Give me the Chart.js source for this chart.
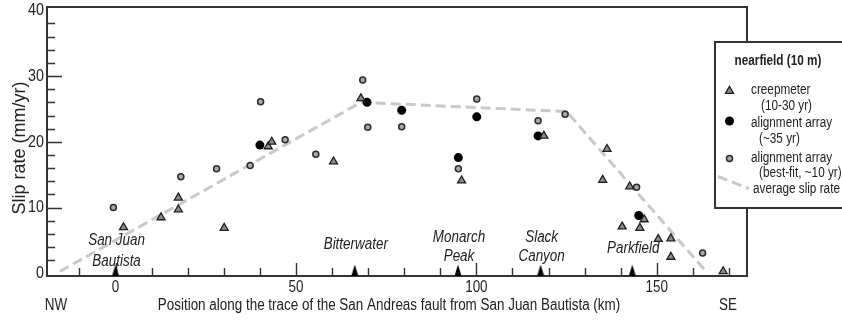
<!DOCTYPE html>
<html>
<head>
<meta charset="utf-8">
<title>Slip rate along the San Andreas fault</title>
<script src="https://cdn.jsdelivr.net/npm/chart.js@4.4.1/dist/chart.umd.min.js"></script>
<style>
  html, body { margin: 0; padding: 0; background: #fff; }
  #wrap { width: 842px; height: 323px; }
</style>
</head>
<body>
<div id="wrap"><canvas id="slipChart" width="842" height="323"></canvas></div>
<script>
'use strict';

// creepmeters (10-30 yr records)
const creepKm   = [2.2, 12.6, 17.4, 17.4, 30.1, 42.3, 43.3, 60.4, 68.0, 95.9, 118.7,
                   135.0, 136.2, 140.4, 142.5, 145.3, 146.5, 150.4, 153.9, 153.9, 168.4];
const creepRate = [7.0, 8.5, 11.5, 9.7, 6.9, 19.3, 20.0, 17.0, 26.6, 14.1, 20.9,
                   14.2, 18.9, 7.1, 13.2, 6.9, 8.2, 5.2, 5.3, 2.5, 0.3];

// alignment arrays (~35 yr)
const alignKm   = [40.0, 69.7, 79.3, 95.0, 100.1, 117.1, 145.0];
const alignRate = [19.5, 26.0, 24.8, 17.6, 23.8, 20.9, 8.8];

// alignment arrays, best-fit (~10 yr)
const bestFitKm   = [-0.6, 18.1, 28.0, 37.3, 40.2, 47.0, 55.5, 68.5, 69.9, 79.3,
                     95.0, 100.1, 117.1, 124.6, 144.4, 162.7];
const bestFitRate = [10.0, 14.7, 15.9, 16.4, 26.1, 20.3, 18.1, 29.4, 22.2, 22.3,
                     15.9, 26.5, 23.2, 24.2, 13.1, 3.1];

// average slip rate profile
const avgKm   = [-15.4, 68.0, 125.0, 163.8];
const avgRate = [0.3, 26.0, 24.6, 0.2];

// place names along the trace
const siteKm    = [0, 66.3, 94.9, 117.8, 143.2];
const siteNames = [['San Juan', 'Bautista'], ['Bitterwater'], ['Monarch', 'Peak'], ['Slack', 'Canyon'], ['Parkfield']];

// axes
const X_MIN = -19, X_MAX = 175;
const Y_MIN = -0.4, Y_MAX = 40.5;
const xLabelTicks = [0, 50, 100, 150];
const xMinorTicks = [-10, 10, 20, 30, 40, 60, 70, 80, 90, 110, 120, 130, 140, 160, 170];
const yLabelTicks = [0, 10, 20, 30, 40];
const yMinorTicks = [2, 4, 6, 8, 12, 14, 16, 18, 22, 24, 26, 28, 32, 34, 36, 38];

const FONT = "'Liberation Sans', Arial, sans-serif";
const SQUEEZE = 0.84;   // narrow lettering
const INK = '#222';
const AXIS = '#333';

const zip = (xs, ys) => xs.map((x, i) => ({ x: x, y: ys[i] }));

// tall black triangle sitting on the axis (lower half of the canvas left empty)
const siteMarker = document.createElement('canvas');
siteMarker.width = 8;
siteMarker.height = 24;
(function () {
    const m = siteMarker.getContext('2d');
    m.fillStyle = '#000';
    m.beginPath();
    m.moveTo(4, 0.5);
    m.lineTo(7.5, 12);
    m.lineTo(0.5, 12);
    m.closePath();
    m.fill();
})();

const style = {
    creep:   { fill: '#8c8c8c', stroke: '#1e1e1e', radius: 4.6, width: 1.3 },
    align:   { fill: '#000',    stroke: '#000',    radius: 4.5, width: 0 },
    bestFit: { fill: '#a8a8a8', stroke: '#2b2b2b', radius: 3,   width: 1.5 },
    avg:     { color: '#c9c9c9', width: 3, dash: [10, 5] }
};

// how far above the axis each name's baselines sit
const siteLabelLift = [[31, 10], [27], [34, 15], [34, 15], [23]];

// condensed text: squeeze horizontally around the anchor point
function narrowText(ctx, text, x, y, align, font, rotate, squeeze) {
    ctx.save();
    ctx.translate(x, y);
    if (rotate) ctx.rotate(rotate);
    ctx.scale(squeeze || SQUEEZE, 1);
    ctx.font = font;
    ctx.textAlign = align;
    ctx.fillText(text, 0, 0);
    ctx.restore();
}

function drawTriangle(ctx, x, y, r) {
    ctx.beginPath();
    ctx.moveTo(x, y - r);
    ctx.lineTo(x + r * Math.sin(Math.PI / 3), y + r / 2);
    ctx.lineTo(x - r * Math.sin(Math.PI / 3), y + r / 2);
    ctx.closePath();
}

const framePlugin = {
    id: 'frame',
    beforeDatasetsDraw(chart) {
        const { ctx, chartArea: a, scales: { x, y } } = chart;
        ctx.save();

        // inward tick marks
        ctx.strokeStyle = AXIS;
        ctx.lineWidth = 1.4;
        ctx.beginPath();
        xLabelTicks.concat(xMinorTicks).forEach(v => {
            const px = Math.round(x.getPixelForValue(v)) + 0.5;
            const len = xLabelTicks.includes(v) ? 13 : 8;
            ctx.moveTo(px, a.bottom);
            ctx.lineTo(px, a.bottom - len);
        });
        yLabelTicks.concat(yMinorTicks).forEach(v => {
            if (v <= 0 || v >= 40) return;
            const py = Math.round(y.getPixelForValue(v)) + 0.5;
            const len = yLabelTicks.includes(v) ? 15 : 8;
            ctx.moveTo(a.left, py);
            ctx.lineTo(a.left + len, py);
        });
        ctx.stroke();

        // tick labels
        ctx.fillStyle = INK;
        ctx.textBaseline = 'middle';
        xLabelTicks.forEach(v => {
            narrowText(ctx, String(v), x.getPixelForValue(v), a.bottom + 12, 'center', '16px ' + FONT);
        });
        yLabelTicks.forEach(v => {
            narrowText(ctx, String(v), a.left - 3, y.getPixelForValue(v), 'right', '17px ' + FONT);
        });

        // axis titles
        narrowText(ctx, 'Position along the trace of the San Andreas fault from San Juan Bautista (km)',
            389, 306, 'center', '16px ' + FONT);
        narrowText(ctx, 'Slip rate (mm/yr)', 20, 148, 'center', '18px ' + FONT, -Math.PI / 2, 1);

        // compass ends of the trace
        narrowText(ctx, 'NW', 56, 306, 'center', '16px ' + FONT);
        narrowText(ctx, 'SE', 728, 306, 'center', '16px ' + FONT);

        ctx.restore();
    },
    afterDatasetsDraw(chart) {
        const { ctx, chartArea: a, scales: { x } } = chart;
        ctx.save();

        // top and right edges of the frame
        ctx.strokeStyle = AXIS;
        ctx.lineWidth = 2;
        ctx.beginPath();
        ctx.moveTo(a.left, a.top);
        ctx.lineTo(a.right, a.top);
        ctx.lineTo(a.right, a.bottom);
        ctx.stroke();

        // place names
        ctx.fillStyle = INK;
        ctx.textBaseline = 'alphabetic';
        siteNames.forEach((lines, i) => {
            const px = x.getPixelForValue(siteKm[i]);
            lines.forEach((t, j) => narrowText(ctx, t, px + 1, a.bottom - siteLabelLift[i][j], 'center', 'italic 16px ' + FONT));
        });

        // legend box
        const bx = 715, by = 42;
        ctx.fillStyle = '#fff';
        ctx.fillRect(bx, by, 140, 166);
        ctx.strokeStyle = AXIS;
        ctx.lineWidth = 2;
        ctx.strokeRect(bx, by, 140, 166);

        ctx.fillStyle = INK;
        ctx.textBaseline = 'alphabetic';
        narrowText(ctx, 'nearfield (10 m)', 778, 65, 'center', 'bold 14px ' + FONT);

        const item = '14px ' + FONT;
        narrowText(ctx, 'creepmeter', 751, 94, 'left', item);
        narrowText(ctx, '(10-30 yr)', 761, 110, 'left', item);
        narrowText(ctx, 'alignment array', 751, 127, 'left', item);
        narrowText(ctx, '(~35 yr)', 759, 143, 'left', item);
        narrowText(ctx, 'alignment array', 751, 162, 'left', item);
        narrowText(ctx, '(best-fit, ~10 yr)', 759, 177, 'left', item);
        narrowText(ctx, 'average slip rate', 753, 193, 'left', item);

        // legend symbols
        const s = style.creep;
        drawTriangle(ctx, 729.5, 91, s.radius);
        ctx.fillStyle = s.fill;
        ctx.fill();
        ctx.lineWidth = s.width;
        ctx.strokeStyle = s.stroke;
        ctx.stroke();

        ctx.beginPath();
        ctx.arc(729.5, 121, style.align.radius, 0, Math.PI * 2);
        ctx.fillStyle = style.align.fill;
        ctx.fill();

        ctx.beginPath();
        ctx.arc(729.5, 158.5, style.bestFit.radius, 0, Math.PI * 2);
        ctx.fillStyle = style.bestFit.fill;
        ctx.fill();
        ctx.lineWidth = style.bestFit.width;
        ctx.strokeStyle = style.bestFit.stroke;
        ctx.stroke();

        ctx.beginPath();
        ctx.setLineDash(style.avg.dash);
        ctx.strokeStyle = style.avg.color;
        ctx.lineWidth = style.avg.width;
        ctx.moveTo(718, 176.5);
        ctx.lineTo(749, 188.5);
        ctx.stroke();

        ctx.restore();
    }
};

new Chart(document.getElementById('slipChart'), {
    type: 'scatter',
    data: {
        datasets: [{
            label: 'average slip rate',
            data: zip(avgKm, avgRate),
            showLine: true,
            borderColor: style.avg.color,
            borderWidth: style.avg.width,
            borderDash: style.avg.dash,
            pointRadius: 0,
            order: 5,
        }, {
            label: 'alignment array (~35 yr)',
            data: zip(alignKm, alignRate),
            pointStyle: 'circle',
            pointRadius: style.align.radius,
            backgroundColor: style.align.fill,
            borderColor: style.align.stroke,
            borderWidth: style.align.width,
            order: 3,
        }, {
            label: 'alignment array (best-fit, ~10 yr)',
            data: zip(bestFitKm, bestFitRate),
            pointStyle: 'circle',
            pointRadius: style.bestFit.radius,
            backgroundColor: style.bestFit.fill,
            borderColor: style.bestFit.stroke,
            borderWidth: style.bestFit.width,
            order: 2,
        }, {
            label: 'creepmeter (10-30 yr)',
            data: zip(creepKm, creepRate),
            pointStyle: 'triangle',
            pointRadius: style.creep.radius,
            backgroundColor: style.creep.fill,
            borderColor: style.creep.stroke,
            borderWidth: style.creep.width,
            order: 1,
        }, {
            label: 'sites',
            data: siteKm.map(k => ({ x: k, y: Y_MIN })),
            pointStyle: siteMarker,
            pointRadius: 3,
            clip: false,
            order: 0,
        }]
    },
    options: {
        responsive: false,
        animation: false,
        devicePixelRatio: 1,
        events: [],
        layout: { padding: { left: 0, top: 7, right: 95, bottom: 0 } },
        plugins: {
            legend: { display: false },
            tooltip: { enabled: false }
        },
        scales: {
            x: {
                type: 'linear',
                min: X_MIN,
                max: X_MAX,
                grid: { display: false, drawTicks: false },
                border: { display: true, color: AXIS, width: 2 },
                afterBuildTicks: s => { s.ticks = xLabelTicks.map(v => ({ value: v })); },
                afterFit: s => { s.height = 47; },
                ticks: { display: false }
            },
            y: {
                type: 'linear',
                min: Y_MIN,
                max: Y_MAX,
                grid: { display: false, drawTicks: false },
                border: { display: true, color: AXIS, width: 2 },
                afterBuildTicks: s => { s.ticks = yLabelTicks.map(v => ({ value: v })); },
                afterFit: s => { s.width = 47; },
                ticks: { display: false }
            }
        }
    },
    plugins: [framePlugin]
});
</script>
</body>
</html>
